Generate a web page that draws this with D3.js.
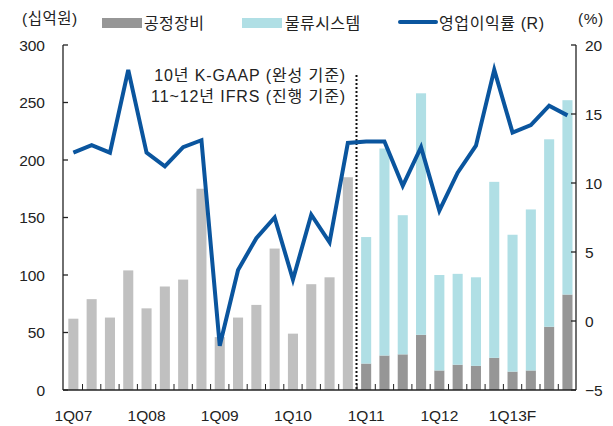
<!DOCTYPE html>
<html><head><meta charset="utf-8">
<script src="https://cdn.jsdelivr.net/npm/d3@7"></script>
<style>
html,body{margin:0;padding:0;background:#fff;}
svg text{font-family:"Liberation Sans","Noto Sans CJK KR",sans-serif;fill:#222;}
</style></head>
<body><svg id="c" width="613" height="426"></svg>
<script>
// ---- data ----
const quarters = ["1Q07","2Q07","3Q07","4Q07","1Q08","2Q08","3Q08","4Q08","1Q09","2Q09","3Q09","4Q09","1Q10","2Q10","3Q10","4Q10","1Q11","2Q11","3Q11","4Q11","1Q12","2Q12","3Q12","4Q12","1Q13F","2Q13F","3Q13F","4Q13F"];
const tickLabels = ["1Q07","1Q08","1Q09","1Q10","1Q11","1Q12","1Q13F"];
// 2007-2010 K-GAAP total (undivided), 십억원
const totalKGAAP = [62,79,63,104,71,90,96,175,46,63,74,123,49,92,98,185];
// 2011-2013 IFRS split
const processEquip = [23,30,31,48,17,22,21,28,16,17,55,83];       // 공정장비
const logistics = [110,180,121,210,83,79,77,153,119,140,163,169];  // 물류시스템
// 영업이익률 (%), right axis
const opMargin = [12.2,12.75,12.2,18.2,12.2,11.2,12.6,13.1,-1.8,3.7,6.0,7.5,3.0,7.7,5.7,12.9,13.0,13.0,9.8,12.6,8.0,10.75,12.7,18.2,13.65,14.2,15.6,14.9];
const leftTicks = [0,50,100,150,200,250,300];
const rightTicks = [-5,0,5,10,15,20];

const cLight = "#c0c0c0", cDark = "#969696", cBlue = "#b0dfe5", cLine = "#0a559e";
const svg = d3.select("#c");
const L = 63, R = 576, T = 45, B = 390;
const x = d3.scaleBand().domain(quarters).range([64.2, 576.6]).paddingInner(0.45).paddingOuter(0.225);
const yL = d3.scaleLinear().domain([0,300]).range([B,T]);
const yR = d3.scaleLinear().domain([-5,20]).range([B,T]);

// bars 2007-2010
svg.append("g").selectAll("rect").data(totalKGAAP).join("rect")
  .attr("x",(d,i)=>x(quarters[i])).attr("width",x.bandwidth())
  .attr("y",d=>yL(d)).attr("height",d=>yL(0)-yL(d)).attr("fill",cLight);
// stacked 2011-2013
const off = totalKGAAP.length;
const stackRows = processEquip.map((d,i)=>({q:quarters[off+i],a:d,b:logistics[i]}));
const stacked = d3.stack().keys(["a","b"])(stackRows);
const cols = [cDark,cBlue];
stacked.forEach((s,k)=>{
  svg.append("g").selectAll("rect").data(s).join("rect")
    .attr("x",d=>x(d.data.q)).attr("width",x.bandwidth())
    .attr("y",d=>yL(d[1])).attr("height",d=>yL(d[0])-yL(d[1])).attr("fill",cols[k]);
});

// dotted separator
const sepX = x(quarters[off]) - x.step()*x.paddingInner()/2 - 0.5;
svg.append("line").attr("x1",sepX).attr("x2",sepX).attr("y1",75).attr("y2",B)
  .attr("stroke","#111").attr("stroke-width",2).attr("stroke-dasharray","2,2");

// line
const line = d3.line().x((d,i)=>x(quarters[i])+x.bandwidth()/2).y(d=>yR(d));
svg.append("path").datum(opMargin).attr("d",line).attr("fill","none")
  .attr("stroke",cLine).attr("stroke-width",4).attr("stroke-linejoin","miter");

// axes
const ax = svg.append("g").attr("stroke","#222").attr("stroke-width",1.3);
ax.append("line").attr("x1",L).attr("x2",L).attr("y1",T).attr("y2",B);
ax.append("line").attr("x1",R).attr("x2",R).attr("y1",T).attr("y2",B);
ax.append("line").attr("x1",L).attr("x2",R).attr("y1",B).attr("y2",B);
leftTicks.forEach(t=>ax.append("line").attr("x1",L).attr("x2",L+5).attr("y1",yL(t)).attr("y2",yL(t)));
rightTicks.forEach(t=>ax.append("line").attr("x1",R-5).attr("x2",R).attr("y1",yR(t)).attr("y2",yR(t)));
quarters.forEach((q,i)=>{ if(i>0){ const xx = x(q)-x.step()*x.paddingInner()/2;
  ax.append("line").attr("x1",xx).attr("x2",xx).attr("y1",B-6).attr("y2",B).attr("stroke-width",1);} });

svg.append("g").selectAll("text").data(leftTicks).join("text")
  .attr("x",45).attr("y",d=>yL(d)).attr("dy","0.36em").attr("text-anchor","end")
  .attr("font-size",15.5).text(d=>d);
svg.append("g").selectAll("text").data(rightTicks).join("text")
  .attr("x",585).attr("y",d=>yR(d)).attr("dy","0.36em").attr("text-anchor","start")
  .attr("font-size",15.5).text(d=>d<0?"\u2212"+Math.abs(d):d);
svg.append("g").selectAll("text").data(tickLabels).join("text")
  .attr("x",d=>x(d)+x.bandwidth()/2).attr("y",415).attr("dy","0.36em").attr("text-anchor","middle")
  .attr("font-size",15.5).text(d=>d);

// annotation
svg.append("text").attr("x",346).attr("y",75).attr("dy","0.36em").attr("text-anchor","end")
  .attr("font-size",16).attr("letter-spacing",0.9).text("10년 K-GAAP (완성 기준)");
svg.append("text").attr("x",346).attr("y",96).attr("dy","0.36em").attr("text-anchor","end")
  .attr("font-size",16).attr("letter-spacing",0.9).text("11~12년 IFRS (진행 기준)");

// legend
svg.append("text").attr("x",22).attr("y",18).attr("dy","0.36em").attr("font-size",15.5).attr("letter-spacing",0.5).text("(십억원)");
svg.append("text").attr("x",578).attr("y",18).attr("dy","0.36em").attr("font-size",15.5).attr("letter-spacing",0.5).text("(%)");
svg.append("rect").attr("x",102).attr("y",18).attr("width",40).attr("height",10).attr("fill",cDark);
svg.append("text").attr("x",144).attr("y",23).attr("dy","0.36em").attr("font-size",16).attr("letter-spacing",0.4).text("공정장비");
svg.append("rect").attr("x",242).attr("y",18).attr("width",40).attr("height",10).attr("fill",cBlue);
svg.append("text").attr("x",285).attr("y",23).attr("dy","0.36em").attr("font-size",16).attr("letter-spacing",0.4).text("물류시스템");
svg.append("line").attr("x1",400).attr("x2",436).attr("y1",22).attr("y2",22)
  .attr("stroke",cLine).attr("stroke-width",4).attr("stroke-linecap","round");
svg.append("text").attr("x",439).attr("y",23).attr("dy","0.36em").attr("font-size",16).attr("letter-spacing",0.6).text("영업이익률 (R)");
</script></body></html>
